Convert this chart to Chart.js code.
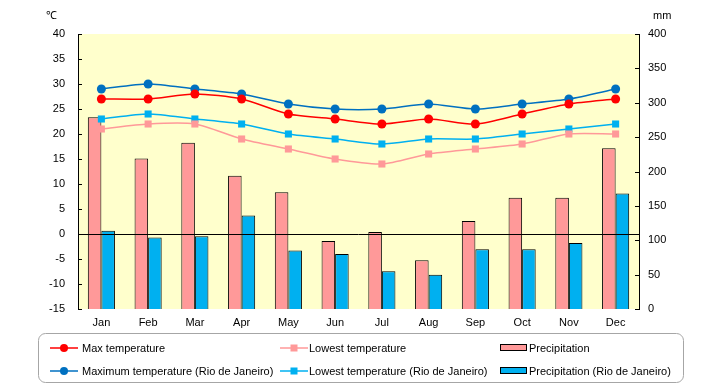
<!DOCTYPE html>
<html><head><meta charset="utf-8">
<script src="https://cdn.jsdelivr.net/npm/chart.js@4/dist/chart.umd.min.js"></script>
<style>html,body{margin:0;padding:0;background:#fff;}#wrap{position:relative;width:720px;height:385px;}</style>
</head><body><div id="wrap"><canvas id="c" width="720" height="385"></canvas></div>
<script>
const months = ['Jan','Feb','Mar','Apr','May','Jun','Jul','Aug','Sep','Oct','Nov','Dec'];
const maxTemp = [27,27,28,27,24,23,22,23,22,24,26,27];
const lowTemp = [21,22,22,19,17,15,14,16,17,18,20,20];
const precip = [279,219,242,194,170,99,112,71,128,162,162,234];
const rioMaxTemp = [29,30,29,28,26,25,25,26,25,26,27,29];
const rioLowTemp = [23,24,23,22,20,19,18,19,19,20,21,22];
const rioPrecip = [114,104,106,136,85,80,55,50,87,87,96,168];
const tempTitle = '℃';
const precipTitle = 'mm';
const labels = ['Max temperature','Lowest temperature','Precipitation','Maximum temperature (Rio de Janeiro)','Lowest temperature (Rio de Janeiro)','Precipitation (Rio de Janeiro)'];

Chart.defaults.font.family = "'Liberation Sans', Arial, sans-serif";
Chart.defaults.font.size = 11;
Chart.defaults.color = '#000';

function lineDs(label, data, color, style){
  return {type:'line', label, data, yAxisID:'y', borderColor:color, backgroundColor:color,
    borderWidth:1.5, pointStyle:style, pointRadius: style==='rect'?5:4.5, pointBorderWidth:0,
    pointBackgroundColor:color, tension:0.25, order:1};
}
function barDs(label, data, color){
  return {type:'bar', label, data, yAxisID:'y1', backgroundColor:color, borderColor:'#000',
    borderWidth:1, barPercentage:1, categoryPercentage:0.58, order:2};
}

const overlay = {
  id:'overlay',
  beforeDraw(chart){
    const {ctx, chartArea:a} = chart;
    ctx.save(); ctx.fillStyle = '#FFFFCC';
    ctx.fillRect(a.left, a.top, a.right-a.left, a.bottom-a.top); ctx.restore();
  },
  afterDatasetsDraw(chart){
    const {ctx, chartArea:a, scales} = chart;
    const y0 = Math.round(scales.y.getPixelForValue(0)) + 0.5;
    ctx.save(); ctx.strokeStyle = '#000'; ctx.lineWidth = 1;
    ctx.beginPath(); ctx.moveTo(a.left, y0); ctx.lineTo(a.right, y0); ctx.stroke();
    scales.y.ticks.forEach(t => { const p = Math.round(scales.y.getPixelForValue(t.value))+0.5;
      ctx.beginPath(); ctx.moveTo(a.left, p); ctx.lineTo(a.left+4, p); ctx.stroke(); });
    scales.y1.ticks.forEach(t => { const p = Math.round(scales.y1.getPixelForValue(t.value))+0.5;
      ctx.beginPath(); ctx.moveTo(a.right-4, p); ctx.lineTo(a.right, p); ctx.stroke(); });
    ctx.restore();
  },
  afterDraw(chart){
    const ctx = chart.ctx;
    ctx.save();
    ctx.fillStyle = '#000'; ctx.font = "11px 'Liberation Sans', Arial, sans-serif";
    ctx.textBaseline = 'middle'; ctx.textAlign = 'left';
    ctx.fillText(tempTitle, 46, 16);
    ctx.fillText(precipTitle, 653, 16);
    ctx.strokeStyle = '#a6a6a6'; ctx.lineWidth = 1;
    ctx.beginPath(); ctx.roundRect(38.5, 333.5, 645, 49, 7); ctx.stroke();
    const cols = [50, 280, 500];
    const textX = [82, 309, 529];
    const rows = [348, 371];
    chart.data.datasets.forEach((ds, i) => {
      const c = i % 3, r = Math.floor(i / 3);
      const x = cols[c], y = rows[r];
      if (ds.type === 'line') {
        ctx.strokeStyle = ds.borderColor; ctx.lineWidth = 1.5;
        ctx.beginPath(); ctx.moveTo(x, y); ctx.lineTo(x+28, y); ctx.stroke();
        ctx.fillStyle = ds.borderColor;
        if (ds.pointStyle === 'rect') ctx.fillRect(x+14-3.5, y-3.5, 7, 7);
        else { ctx.beginPath(); ctx.arc(x+14, y, 4, 0, Math.PI*2); ctx.fill(); }
      } else {
        ctx.fillStyle = ds.backgroundColor; ctx.fillRect(x+0.5, y-3.5, 26, 6);
        ctx.strokeStyle = '#000'; ctx.lineWidth = 1; ctx.strokeRect(x+0.5, y-3.5, 26, 6);
      }
      ctx.fillStyle = '#000';
      ctx.fillText(ds.label, textX[c], y+1);
    });
    ctx.restore();
  }
};

new Chart(document.getElementById('c'), {
  data: {
    labels: months,
    datasets: [
      lineDs(labels[0], maxTemp, '#FF0000', 'circle'),
      lineDs(labels[1], lowTemp, '#FF9999', 'rect'),
      barDs(labels[2], precip, '#FF9999'),
      lineDs(labels[3], rioMaxTemp, '#0070C0', 'circle'),
      lineDs(labels[4], rioLowTemp, '#00B0F0', 'rect'),
      barDs(labels[5], rioPrecip, '#00B0F0')
    ]
  },
  options: {
    responsive:false, animation:false, devicePixelRatio:1,
    layout:{padding:{top:34,left:0,right:0,bottom:0}},
    plugins:{legend:{display:false}, tooltip:{enabled:false}},
    scales:{
      x:{grid:{display:false, drawTicks:false}, border:{display:false},
         ticks:{padding:7, maxRotation:0, autoSkip:false},
         afterFit(s){ s.height = 76; }},
      y:{position:'left', min:-15, max:40, ticks:{stepSize:5, padding:13},
         grid:{display:false, drawTicks:false}, border:{display:true, color:'#000', width:1},
         afterFit(s){ s.width = 78; }},
      y1:{position:'right', min:0, max:400, ticks:{stepSize:50, padding:9},
         grid:{display:false, drawTicks:false}, border:{display:true, color:'#000', width:1},
         afterFit(s){ s.width = 81; }}
    }
  },
  plugins:[overlay]
});
</script></body></html>
